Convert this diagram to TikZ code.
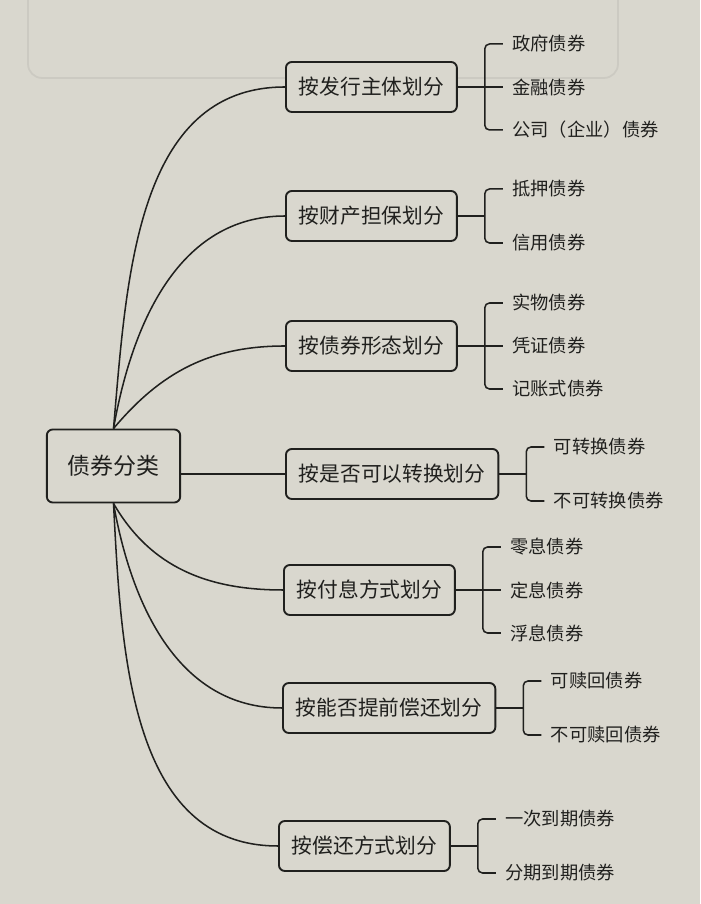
\documentclass[tikz,border=0pt]{standalone}
\usepackage{fontspec}
\newfontfamily\cjk{Noto Sans CJK SC}
\usetikzlibrary{calc}
\definecolor{paper}{RGB}{217,215,206}
\definecolor{ink}{RGB}{32,32,30}
\definecolor{ghost}{RGB}{204,202,194}

\begin{document}
\begin{tikzpicture}[
    x=0.03cm, y=0.03cm,
    every node/.style={font=\cjk, text=ink},
    root/.style={
        draw=ink, line width=1.6pt, rounded corners=5pt, fill=paper,
        minimum width=4cm, minimum height=2.19cm,
        font=\cjk\fontsize{19.6}{20}\selectfont
    },
    cat/.style={
        draw=ink, line width=1.6pt, rounded corners=5pt, fill=paper,
        anchor=west, inner xsep=11pt, minimum height=1.5cm,
        font=\cjk\fontsize{17.7}{18}\selectfont
    },
    leaf/.style={anchor=west, inner xsep=8pt, font=\cjk\fontsize{15.6}{16}\selectfont},
    branch/.style={draw=ink, line width=1.3pt},
    bracket/.style={draw=ink, line width=1.3pt, rounded corners=4pt}
]

\fill[paper] (0,0) rectangle (700,904);
\useasboundingbox (0,0) rectangle (700,904);
\draw[ghost, line width=1.5pt, rounded corners=12pt] (28,826) rectangle (618,930);

\node[root] (root) at (113.5,438) {债券分类};

\node[cat] (c1) at (285,817) {按发行主体划分};
\node[cat] (c2) at (285,688) {按财产担保划分};
\node[cat] (c3) at (285,558) {按债券形态划分};
\node[cat] (c4) at (285,430) {按是否可以转换划分};
\node[cat] (c5) at (283,314) {按付息方式划分};
\node[cat] (c6) at (282,196) {按能否提前偿还划分};
\node[cat] (c7) at (278,58) {按偿还方式划分};

\coordinate (k1) at ($(c1.east)+(27,0)$);
\coordinate (k2) at ($(c2.east)+(27,0)$);
\coordinate (k3) at ($(c3.east)+(27,0)$);
\coordinate (k4) at ($(c4.east)+(27,0)$);
\coordinate (k5) at ($(c5.east)+(27,0)$);
\coordinate (k6) at ($(c6.east)+(27,0)$);
\coordinate (k7) at ($(c7.east)+(27,0)$);

\node[leaf] (l11) at ($(k1)+(18,43)$) {政府债券};
\node[leaf] (l12) at ($(k1)+(18,0)$) {金融债券};
\node[leaf] (l13) at ($(k1)+(18,-43)$) {公司（企业）债券};

\node[leaf] (l21) at ($(k2)+(18,27)$) {抵押债券};
\node[leaf] (l22) at ($(k2)+(18,-27)$) {信用债券};

\node[leaf] (l31) at ($(k3)+(18,43)$) {实物债券};
\node[leaf] (l32) at ($(k3)+(18,0)$) {凭证债券};
\node[leaf] (l33) at ($(k3)+(18,-43)$) {记账式债券};

\node[leaf] (l41) at ($(k4)+(18,27)$) {可转换债券};
\node[leaf] (l42) at ($(k4)+(18,-27)$) {不可转换债券};

\node[leaf] (l51) at ($(k5)+(18,43)$) {零息债券};
\node[leaf] (l52) at ($(k5)+(18,0)$) {定息债券};
\node[leaf] (l53) at ($(k5)+(18,-43)$) {浮息债券};

\node[leaf] (l61) at ($(k6)+(18,27)$) {可赎回债券};
\node[leaf] (l62) at ($(k6)+(18,-27)$) {不可赎回债券};

\node[leaf] (l71) at ($(k7)+(18,27)$) {一次到期债券};
\node[leaf] (l72) at ($(k7)+(18,-27)$) {分期到期债券};

\draw[branch] (root.north) to[out=85,in=180] (c1.west);
\draw[branch] (root.north) to[out=80,in=180] (c2.west);
\draw[branch] (root.north) to[out=50,in=180] (c3.west);
\draw[branch] (root.east |- c4.west) -- (c4.west);
\draw[branch] (root.south) to[out=-60,in=180] (c5.west);
\draw[branch] (root.south) to[out=-80,in=180] (c6.west);
\draw[branch] (root.south) to[out=-87,in=180] (c7.west);

\draw[branch] (c1.east) -- (k1) -- (l12.west);
\draw[bracket] (l11.west) -| (k1) |- (l13.west);
\draw[branch] (c2.east) -- (k2);
\draw[bracket] (l21.west) -| (k2) |- (l22.west);
\draw[branch] (c3.east) -- (k3) -- (l32.west);
\draw[bracket] (l31.west) -| (k3) |- (l33.west);
\draw[branch] (c4.east) -- (k4);
\draw[bracket] (l41.west) -| (k4) |- (l42.west);
\draw[branch] (c5.east) -- (k5) -- (l52.west);
\draw[bracket] (l51.west) -| (k5) |- (l53.west);
\draw[branch] (c6.east) -- (k6);
\draw[bracket] (l61.west) -| (k6) |- (l62.west);
\draw[branch] (c7.east) -- (k7);
\draw[bracket] (l71.west) -| (k7) |- (l72.west);

\end{tikzpicture}
\end{document}
